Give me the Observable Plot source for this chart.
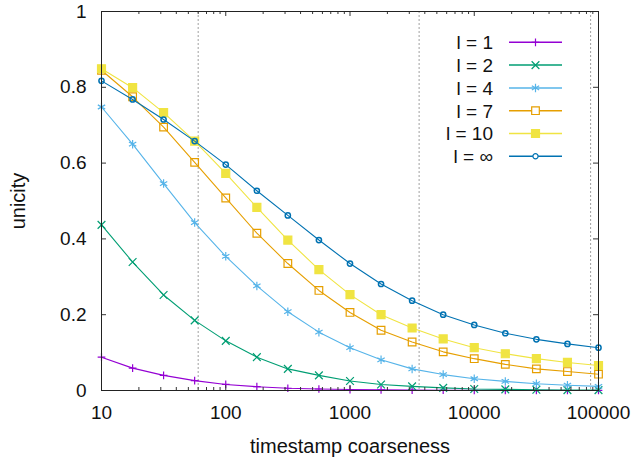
<!DOCTYPE html>
<html><head><meta charset="utf-8">
<script src="https://cdn.jsdelivr.net/npm/d3@7"></script>
<script src="https://cdn.jsdelivr.net/npm/@observablehq/plot@0.6"></script>
<style>
body{margin:0;background:#fff;}
#chart{position:relative;width:631px;height:459px;font-family:"Liberation Sans",Arial,sans-serif;}
#legend{position:absolute;left:0;top:0;pointer-events:none;}
</style></head><body><div id="chart"></div>
<script>
const coarseness = [10, 17.8, 31.6, 56.2, 100, 178, 316, 562, 1000, 1778, 3162, 5623, 10000, 17783, 31623, 56234, 100000];
const labels = ["l = 1", "l = 2", "l = 4", "l = 7", "l = 10", "l = \u221e"];
const l1   = [0.088, 0.059, 0.040, 0.026, 0.016, 0.010, 0.006, 0.004, 0.0025, 0.0016, 0.001, 0.0007, 0.0005, 0.0003, 0.0002, 0.0001, 0.0001];
const l2   = [0.437, 0.339, 0.252, 0.185, 0.131, 0.088, 0.057, 0.040, 0.025, 0.016, 0.011, 0.007, 0.004, 0.003, 0.002, 0.001, 0.001];
const l4   = [0.748, 0.650, 0.546, 0.443, 0.354, 0.276, 0.208, 0.154, 0.113, 0.081, 0.057, 0.042, 0.031, 0.024, 0.018, 0.014, 0.011];
const l7   = [0.845, 0.775, 0.695, 0.602, 0.508, 0.415, 0.335, 0.264, 0.206, 0.159, 0.128, 0.102, 0.084, 0.069, 0.057, 0.050, 0.043];
const l10  = [0.849, 0.799, 0.733, 0.658, 0.573, 0.483, 0.397, 0.319, 0.253, 0.200, 0.165, 0.136, 0.113, 0.097, 0.084, 0.074, 0.066];
const linf = [0.817, 0.768, 0.715, 0.658, 0.596, 0.527, 0.462, 0.397, 0.335, 0.281, 0.237, 0.200, 0.173, 0.151, 0.135, 0.123, 0.113];
const seriesValues = [l1, l2, l4, l7, l10, linf];
const colors = ["#9400d3", "#009e73", "#56b4e9", "#e69f00", "#f0e442", "#0072b2"];
const symbols = ["plus", "times", "asterisk", "square", "square", "circle"];
const filled = [false, false, false, false, true, false];
const symbolR = [2.6, 3.6, 4, 4.3, 4.5, 2.6];
const yTicks = [0, 0.2, 0.4, 0.6, 0.8, 1];
const yTickLabels = ["0", "0.2", "0.4", "0.6", "0.8", "1"];
const xTicks = [10, 100, 1000, 10000, 100000];
const xTickLabels = ["10", "100", "1000", "10000", "100000"];
const xMinorTicks = [10, 100, 1000, 10000].flatMap(d => [2,3,4,5,6,7,8,9].map(m => d * m));
const timeMarkers = [60, 3600, 86400];

const W = 631, H = 459, ML = 101, MR = 33, MT = 11, MB = 69;
const innerW = W - ML - MR, innerH = H - MT - MB;
const font = "'Liberation Sans', Arial, sans-serif";

const marks = [];
marks.push(Plot.ruleX(timeMarkers, {x: d => d, stroke: "#a0a0a0", strokeWidth: 1, strokeDasharray: "2,2"}));
labels.forEach((lab, i) => {
  const rows = coarseness.map((x, j) => ({x, y: seriesValues[i][j]}));
  marks.push(Plot.line(rows, {x: "x", y: "y", stroke: colors[i], strokeWidth: 1.1}));
  marks.push(Plot.dot(rows, {x: "x", y: "y", symbol: symbols[i], r: symbolR[i],
    stroke: colors[i], fill: filled[i] ? colors[i] : "none", strokeWidth: i === 5 ? 1.5 : 1.2}));
});
const tickColor = "#333";
marks.push(Plot.ruleX(xTicks, {x: d => d, insetTop: innerH - 5, stroke: tickColor}));
marks.push(Plot.ruleX(xTicks, {x: d => d, insetBottom: innerH - 5, stroke: tickColor}));
marks.push(Plot.ruleX(xMinorTicks, {x: d => d, insetTop: innerH - 3, stroke: tickColor}));
marks.push(Plot.ruleX(xMinorTicks, {x: d => d, insetBottom: innerH - 3, stroke: tickColor}));
marks.push(Plot.ruleY(yTicks, {y: d => d, insetRight: innerW - 5, stroke: tickColor}));
marks.push(Plot.ruleY(yTicks, {y: d => d, insetLeft: innerW - 5, stroke: tickColor}));
marks.push(Plot.frame({stroke: "#222", strokeWidth: 1}));
marks.push(Plot.axisX(xTicks, {tickSize: 0, tickPadding: 15, fontSize: 19, fill: "#111", label: null,
  tickFormat: d => xTickLabels[xTicks.indexOf(d)]}));
marks.push(Plot.axisX({ticks: [], label: "timestamp coarseness", labelAnchor: "center", labelOffset: 62, labelArrow: "none", fontSize: 20, fill: "#111"}));
marks.push(Plot.axisY(yTicks, {tickSize: 0, tickPadding: 15, fontSize: 19, fill: "#111", label: null,
  tickFormat: d => yTickLabels[yTicks.indexOf(d)]}));
marks.push(Plot.axisY({ticks: [], label: "unicity", labelAnchor: "center", labelOffset: 91, labelArrow: "none", fontSize: 20, fill: "#111"}));

const chart = Plot.plot({
  width: W, height: H,
  marginLeft: ML, marginRight: MR, marginTop: MT, marginBottom: MB,
  style: {fontFamily: font, fontSize: "19px", background: "#fff", color: "#111"},
  x: {type: "log", domain: [10, 100000]},
  y: {domain: [0, 1]},
  marks
});
const container = document.getElementById("chart");
container.appendChild(chart);

const leg = d3.select(container).append("svg").attr("id", "legend").attr("width", W).attr("height", H);
const symMap = {plus: d3.symbolPlus, times: d3.symbolTimes, asterisk: d3.symbolAsterisk, square: d3.symbolSquare, circle: d3.symbolCircle};
labels.forEach((lab, i) => {
  const y = 42.3 + i * 22.8;
  leg.append("text").attr("x", 493).attr("y", y).attr("text-anchor", "end").attr("dy", "0.36em")
    .attr("font-family", font).attr("font-size", 19).attr("fill", "#111").text(lab);
  leg.append("line").attr("x1", 509).attr("x2", 562).attr("y1", y).attr("y2", y)
    .attr("stroke", colors[i]).attr("stroke-width", 1.5);
  leg.append("path").attr("transform", `translate(535.5,${y})`)
    .attr("d", d3.symbol(symMap[symbols[i]], Math.PI * symbolR[i] * symbolR[i])())
    .attr("stroke", colors[i]).attr("stroke-width", 1.2).attr("fill", filled[i] ? colors[i] : "#fff");
});
</script></body></html>
